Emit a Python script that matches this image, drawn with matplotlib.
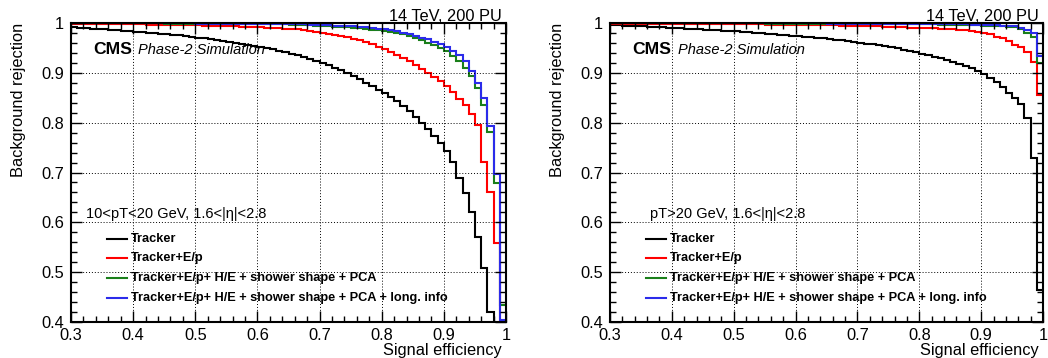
import numpy as np
import matplotlib.pyplot as plt
from matplotlib.lines import Line2D
from matplotlib.ticker import MultipleLocator, FixedLocator, FixedFormatter

# signal-efficiency bins (0.01 wide, 0.3 -> 1.0)
eff_edges = np.linspace(0.3, 1.0, 71)

# ---- left panel: 10 < pT < 20 GeV ----
low_trk = [0.991, 0.990, 0.989, 0.988, 0.987, 0.987, 0.986, 0.985, 0.984, 0.983,
           0.982, 0.981, 0.980, 0.979, 0.978, 0.977, 0.976, 0.975, 0.973, 0.972,
           0.970, 0.969, 0.967, 0.966, 0.964, 0.962, 0.960, 0.958, 0.956, 0.954,
           0.952, 0.950, 0.947, 0.944, 0.941, 0.938, 0.935, 0.931, 0.927, 0.923,
           0.920, 0.915, 0.910, 0.905, 0.899, 0.893, 0.887, 0.880, 0.873, 0.866,
           0.859, 0.851, 0.843, 0.834, 0.823, 0.812, 0.800, 0.787, 0.774, 0.760,
           0.743, 0.722, 0.688, 0.658, 0.621, 0.571, 0.508, 0.421, 0.0, 0.0]
low_ep = [0.998, 0.998, 0.998, 0.998, 0.998, 0.997, 0.997, 0.997, 0.997, 0.997,
          0.997, 0.997, 0.996, 0.996, 0.996, 0.996, 0.996, 0.995, 0.995, 0.995,
          0.995, 0.994, 0.994, 0.994, 0.993, 0.993, 0.993, 0.992, 0.992, 0.991,
          0.991, 0.990, 0.990, 0.989, 0.988, 0.988, 0.987, 0.985, 0.984, 0.982,
          0.980, 0.978, 0.976, 0.973, 0.971, 0.968, 0.965, 0.961, 0.957, 0.952,
          0.947, 0.942, 0.936, 0.930, 0.923, 0.916, 0.908, 0.900, 0.892, 0.883,
          0.873, 0.861, 0.848, 0.835, 0.818, 0.795, 0.722, 0.661, 0.558, 0.0]
low_pca = [0.999, 0.999, 0.999, 0.999, 0.999, 0.999, 0.999, 0.999, 0.999, 0.999,
           0.999, 0.999, 0.999, 0.999, 0.999, 0.998, 0.998, 0.998, 0.998, 0.998,
           0.998, 0.998, 0.998, 0.998, 0.998, 0.998, 0.998, 0.998, 0.998, 0.998,
           0.997, 0.997, 0.997, 0.997, 0.997, 0.996, 0.996, 0.995, 0.995, 0.994,
           0.993, 0.993, 0.992, 0.991, 0.991, 0.990, 0.989, 0.988, 0.986, 0.985,
           0.983, 0.981, 0.979, 0.977, 0.973, 0.970, 0.965, 0.960, 0.955, 0.950,
           0.943, 0.933, 0.923, 0.910, 0.893, 0.869, 0.835, 0.782, 0.678, 0.435]
low_long = [0.999, 0.999, 0.999, 0.999, 0.999, 0.999, 0.999, 0.999, 0.999, 0.999,
            0.999, 0.999, 0.999, 0.999, 0.999, 0.999, 0.999, 0.999, 0.999, 0.999,
            0.998, 0.998, 0.998, 0.998, 0.998, 0.998, 0.998, 0.998, 0.998, 0.998,
            0.998, 0.998, 0.998, 0.998, 0.998, 0.997, 0.997, 0.997, 0.996, 0.996,
            0.995, 0.995, 0.994, 0.994, 0.993, 0.993, 0.992, 0.991, 0.990, 0.988,
            0.987, 0.985, 0.983, 0.980, 0.977, 0.973, 0.970, 0.967, 0.962, 0.958,
            0.951, 0.943, 0.935, 0.923, 0.903, 0.880, 0.849, 0.793, 0.697, 0.405]

# ---- right panel: pT > 20 GeV ----
high_trk = [0.995, 0.995, 0.994, 0.994, 0.993, 0.993, 0.992, 0.992, 0.991, 0.990,
            0.990, 0.989, 0.988, 0.988, 0.987, 0.986, 0.986, 0.985, 0.984, 0.983,
            0.983, 0.982, 0.981, 0.980, 0.979, 0.978, 0.977, 0.976, 0.975, 0.974,
            0.973, 0.972, 0.971, 0.970, 0.969, 0.968, 0.966, 0.965, 0.963, 0.962,
            0.960, 0.958, 0.957, 0.955, 0.953, 0.951, 0.949, 0.946, 0.944, 0.941,
            0.938, 0.935, 0.932, 0.929, 0.926, 0.922, 0.918, 0.914, 0.909, 0.904,
            0.898, 0.890, 0.882, 0.871, 0.859, 0.849, 0.837, 0.809, 0.729, 0.464]
high_ep = [0.998, 0.998, 0.998, 0.998, 0.998, 0.998, 0.998, 0.998, 0.998, 0.998,
           0.998, 0.998, 0.998, 0.998, 0.998, 0.997, 0.997, 0.997, 0.997, 0.997,
           0.997, 0.997, 0.997, 0.997, 0.997, 0.996, 0.996, 0.996, 0.996, 0.996,
           0.996, 0.996, 0.996, 0.995, 0.995, 0.995, 0.995, 0.994, 0.994, 0.994,
           0.994, 0.993, 0.993, 0.993, 0.992, 0.992, 0.991, 0.991, 0.990, 0.990,
           0.990, 0.989, 0.989, 0.988, 0.987, 0.987, 0.986, 0.985, 0.983, 0.982,
           0.980, 0.977, 0.972, 0.969, 0.963, 0.956, 0.951, 0.941, 0.922, 0.856]
high_pca = [0.999, 0.999, 0.999, 0.999, 0.999, 0.999, 0.999, 0.999, 0.999, 0.999,
            0.999, 0.999, 0.999, 0.999, 0.999, 0.999, 0.999, 0.999, 0.999, 0.999,
            0.999, 0.999, 0.999, 0.999, 0.999, 0.998, 0.998, 0.998, 0.998, 0.998,
            0.998, 0.998, 0.998, 0.998, 0.998, 0.998, 0.998, 0.998, 0.998, 0.998,
            0.998, 0.998, 0.998, 0.998, 0.998, 0.997, 0.997, 0.997, 0.997, 0.997,
            0.997, 0.997, 0.997, 0.996, 0.996, 0.996, 0.996, 0.995, 0.995, 0.995,
            0.994, 0.994, 0.993, 0.993, 0.992, 0.991, 0.987, 0.980, 0.971, 0.920]
high_long = [0.999, 0.999, 0.999, 0.999, 0.999, 0.999, 0.999, 0.999, 0.999, 0.999,
             0.999, 0.999, 0.999, 0.999, 0.999, 0.999, 0.999, 0.999, 0.999, 0.999,
             0.999, 0.999, 0.999, 0.999, 0.999, 0.999, 0.999, 0.999, 0.999, 0.999,
             0.999, 0.999, 0.999, 0.999, 0.999, 0.998, 0.998, 0.998, 0.998, 0.998,
             0.998, 0.998, 0.998, 0.998, 0.998, 0.998, 0.998, 0.998, 0.998, 0.998,
             0.998, 0.998, 0.998, 0.997, 0.997, 0.997, 0.997, 0.997, 0.996, 0.996,
             0.996, 0.995, 0.995, 0.994, 0.994, 0.993, 0.990, 0.985, 0.980, 0.933]

series_names = ["Tracker", "Tracker+E/p",
                "Tracker+E/p+ H/E + shower shape + PCA",
                "Tracker+E/p+ H/E + shower shape + PCA + long. info"]
series_colors = ["black", "#ff0000", "#1a7f1a", "#2b2bea"]
panel_headers = ["10<pT<20 GeV, 1.6<|η|<2.8", "pT>20 GeV, 1.6<|η|<2.8"]

x_ticks = [0.3, 0.4, 0.5, 0.6, 0.7, 0.8, 0.9, 1.0]
x_ticklabels = ["0.3", "0.4", "0.5", "0.6", "0.7", "0.8", "0.9", "1"]
y_ticks = [0.4, 0.5, 0.6, 0.7, 0.8, 0.9, 1.0]
y_ticklabels = ["0.4", "0.5", "0.6", "0.7", "0.8", "0.9", "1"]

plt.rcParams['font.family'] = ['Liberation Sans', 'DejaVu Sans']

W, H = 1048, 358
fig = plt.figure(figsize=(W / 100, H / 100), dpi=100)


def fx(p):
    return p / W


def fy(p):
    return 1 - p / H


def draw_panel(x0, x1, curves, header, header_dx):
    ax = fig.add_axes([fx(x0), fy(322), fx(x1 - x0), (322 - 23) / H])
    for vals, col in zip(curves, series_colors):
        ax.stairs(vals, eff_edges, baseline=None, color=col, lw=1.5)
    ax.set_xlim(0.3, 1.0)
    ax.set_ylim(0.4, 1.0)
    ax.xaxis.set_major_locator(FixedLocator(x_ticks))
    ax.xaxis.set_major_formatter(FixedFormatter(x_ticklabels))
    ax.yaxis.set_major_locator(FixedLocator(y_ticks))
    ax.yaxis.set_major_formatter(FixedFormatter(y_ticklabels))
    ax.xaxis.set_minor_locator(MultipleLocator(0.02))
    ax.yaxis.set_minor_locator(MultipleLocator(0.02))
    ax.tick_params(which='both', direction='in', top=True, right=True,
                   width=1, labelsize=11.8, colors='black')
    ax.tick_params(which='major', length=8)
    ax.tick_params(which='minor', length=4)
    ax.tick_params(axis='x', pad=4)
    ax.tick_params(axis='y', pad=5)
    ax.grid(which='major', color='black', linestyle=(0, (1, 2)), lw=0.7)
    for s in ax.spines.values():
        s.set_linewidth(1.5)

    fig.text(fx(x1 - 4), fy(20.7), "14 TeV, 200 PU", ha='right', va='baseline', fontsize=11.8)
    fig.text(fx(x1 - 4), fy(355), "Signal efficiency", ha='right', va='baseline', fontsize=11.8)
    fig.text(fx(x0 - 52.5), fy(23), "Background rejection", rotation=90,
             ha='center', va='top', fontsize=11.8)
    fig.text(fx(x0 + 22), fy(54), "CMS", fontweight='bold', fontsize=12.6, va='baseline')
    fig.text(fx(x0 + 67.5), fy(54), "Phase-2 Simulation", style='italic',
             fontsize=10.5, va='baseline')

    fig.text(fx(x0 + header_dx), fy(214), header, fontsize=10.5, va='center')
    for i, (name, col) in enumerate(zip(series_names, series_colors)):
        yy = fy(238.7 + 19.7 * i)
        fig.add_artist(Line2D([fx(x0 + 36), fx(x0 + 56)], [yy, yy], color=col, lw=1.5))
        fig.text(fx(x0 + 60), yy, name, fontweight='bold', fontsize=9.2, va='center')
    return ax


draw_panel(71, 506, [low_trk, low_ep, low_pca, low_long], panel_headers[0], 15)
draw_panel(610, 1043, [high_trk, high_ep, high_pca, high_long], panel_headers[1], 40)

fig.savefig("out.png", dpi=100)
